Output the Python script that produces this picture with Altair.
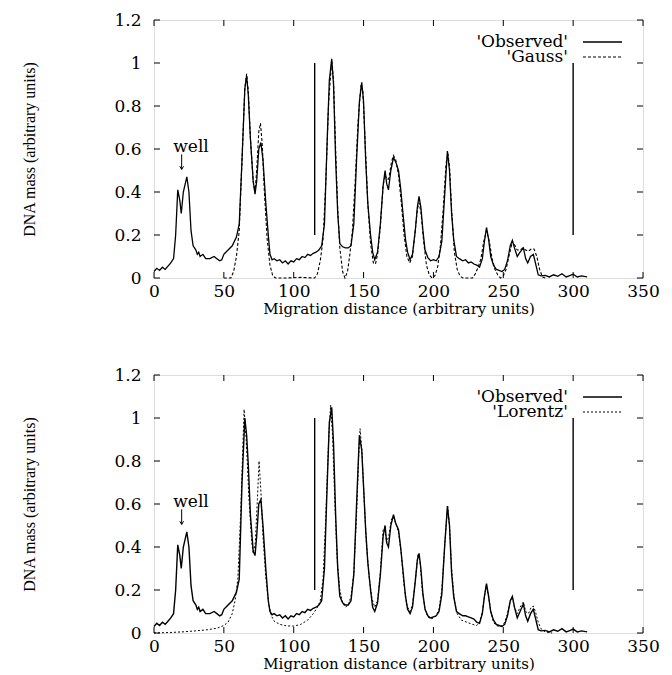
import altair as alt
import pandas as pd

# ---------------- data ----------------
obs_x = [0, 2, 4, 6, 8, 10, 12, 14, 15.5, 17,
         18.5, 19.5, 21, 23.5, 25, 26.5, 28, 30, 31, 32,
         33, 35, 37, 40, 43, 45, 47, 48.5, 50, 53,
         56, 59, 61, 63, 65, 66.3, 67.5, 69, 71, 72.3,
         73.5, 75, 76.5, 78, 80, 81.8, 83, 84.5, 86, 88,
         90, 92, 94, 96, 98, 100, 102, 104, 106, 108,
         110, 112, 114, 116, 118, 120, 122, 124, 125.5, 127.2,
         128.5, 130, 131.5, 133, 135, 137, 139, 141, 143, 145,
         147, 148.7, 150, 151.5, 153, 155, 156.5, 158, 160, 162,
         164, 165.4, 166.5, 167.8, 169.5, 171.4, 173, 175, 176.5, 178.5,
         180, 181.5, 183.3, 185, 187, 188.5, 189.7, 191, 192.5, 194,
         196, 198, 200, 202, 204, 206, 208, 210, 211.5, 213,
         214.5, 216.5, 218.5, 221, 223, 225, 227, 229, 231, 233,
         235, 236.5, 238, 239.5, 241, 243, 245, 247, 249, 251,
         253, 255, 256.5, 258, 260, 262, 264.4, 266, 267.5, 269.5,
         271.5, 273, 275, 277, 280, 283, 286, 289, 292, 295,
         298, 300, 303, 306, 310]

obs_top = [0.03, 0.045, 0.035, 0.05, 0.04, 0.055, 0.07, 0.09, 0.2, 0.41,
           0.36, 0.30, 0.40, 0.47, 0.40, 0.22, 0.15, 0.13, 0.11, 0.12,
           0.10, 0.11, 0.09, 0.09, 0.10, 0.09, 0.08, 0.085, 0.11, 0.13,
           0.15, 0.19, 0.25, 0.55, 0.88, 0.94, 0.85, 0.65, 0.45, 0.39,
           0.45, 0.60, 0.63, 0.55, 0.35, 0.20, 0.11, 0.085, 0.09, 0.08,
           0.085, 0.07, 0.08, 0.065, 0.08, 0.075, 0.09, 0.085, 0.10, 0.095,
           0.11, 0.105, 0.115, 0.12, 0.13, 0.15, 0.25, 0.65, 0.92, 1.02,
           0.90, 0.55, 0.30, 0.16, 0.145, 0.14, 0.14, 0.15, 0.25, 0.55,
           0.82, 0.91, 0.82, 0.55, 0.35, 0.20, 0.12, 0.085, 0.12, 0.25,
           0.43, 0.50, 0.44, 0.41, 0.50, 0.56, 0.54, 0.50, 0.42, 0.28,
           0.18, 0.12, 0.085, 0.11, 0.22, 0.33, 0.38, 0.33, 0.22, 0.13,
           0.095, 0.08, 0.085, 0.08, 0.10, 0.17, 0.38, 0.59, 0.50, 0.30,
           0.18, 0.10, 0.09, 0.08, 0.085, 0.07, 0.075, 0.065, 0.06, 0.05,
           0.09, 0.17, 0.235, 0.18, 0.10, 0.06, 0.04, 0.035, 0.03, 0.04,
           0.08, 0.15, 0.175, 0.14, 0.10, 0.12, 0.14, 0.09, 0.07, 0.10,
           0.11, 0.07, 0.015, 0.01, 0.012, 0.005, 0.015, 0.008, 0.02, 0.005,
           0.012, 0.018, 0.005, 0.01, 0.005]

obs_bot = [0.03, 0.045, 0.035, 0.05, 0.04, 0.055, 0.07, 0.09, 0.2, 0.41,
           0.36, 0.30, 0.40, 0.47, 0.40, 0.22, 0.15, 0.13, 0.11, 0.12,
           0.10, 0.11, 0.09, 0.09, 0.10, 0.09, 0.08, 0.085, 0.11, 0.13,
           0.15, 0.19, 0.25, 0.70, 1.00, 0.92, 0.78, 0.55, 0.38, 0.36,
           0.45, 0.60, 0.62, 0.50, 0.30, 0.15, 0.10, 0.085, 0.09, 0.08,
           0.085, 0.07, 0.08, 0.065, 0.08, 0.075, 0.09, 0.085, 0.10, 0.095,
           0.11, 0.105, 0.115, 0.12, 0.13, 0.15, 0.30, 0.70, 0.98, 1.05,
           0.88, 0.55, 0.30, 0.17, 0.14, 0.13, 0.13, 0.15, 0.27, 0.60,
           0.92, 0.85, 0.68, 0.48, 0.33, 0.20, 0.12, 0.10, 0.14, 0.27,
           0.45, 0.50, 0.42, 0.40, 0.50, 0.55, 0.51, 0.48, 0.40, 0.27,
           0.17, 0.11, 0.09, 0.12, 0.24, 0.34, 0.37, 0.30, 0.18, 0.11,
           0.08, 0.07, 0.075, 0.08, 0.10, 0.18, 0.40, 0.59, 0.50, 0.28,
           0.17, 0.10, 0.09, 0.08, 0.08, 0.075, 0.07, 0.065, 0.05, 0.045,
           0.09, 0.17, 0.23, 0.17, 0.10, 0.06, 0.04, 0.035, 0.03, 0.04,
           0.08, 0.15, 0.17, 0.12, 0.07, 0.10, 0.135, 0.08, 0.055, 0.09,
           0.11, 0.07, 0.015, 0.01, 0.012, 0.005, 0.015, 0.008, 0.02, 0.005,
           0.012, 0.018, 0.005, 0.01, 0.005]

gauss_x = [50, 55, 57, 59, 61, 63, 65, 66.3, 67.5, 69,
           71, 72.3, 73.5, 75, 76.2, 77.5, 79, 81, 83, 85,
           87, 95, 105, 115, 117, 119, 121, 123, 125, 127.2,
           128.5, 130, 131.5, 133, 135, 136.7, 138.5, 140, 142, 144,
           146, 148, 149.5, 151, 153, 155, 157, 158.5, 160, 162,
           164, 165.4, 166.5, 168, 170, 171.4, 173, 175, 177, 179,
           181, 183, 185, 187, 188.5, 189.7, 191, 193, 195, 197,
           199, 201, 203, 205, 207, 209, 210.3, 211.5, 213, 215,
           217, 219, 221, 228, 230, 232, 234, 236, 238, 240,
           242, 244, 246, 248, 250, 252, 254, 256, 258, 260,
           262, 264, 266, 268, 270, 272, 274, 276, 278, 280]
gauss_y = [0, 0, 0.03, 0.10, 0.22, 0.55, 0.88, 0.95, 0.87, 0.65,
           0.45, 0.40, 0.50, 0.68, 0.72, 0.62, 0.40, 0.18, 0.06, 0.01,
           0, 0, 0.003, 0, 0.02, 0.08, 0.18, 0.45, 0.82, 1.01,
           0.92, 0.60, 0.32, 0.14, 0.03, 0, 0.03, 0.10, 0.22, 0.45,
           0.72, 0.89, 0.87, 0.65, 0.35, 0.16, 0.07, 0.065, 0.11, 0.24,
           0.43, 0.48, 0.46, 0.46, 0.54, 0.57, 0.55, 0.48, 0.35, 0.20,
           0.10, 0.07, 0.10, 0.22, 0.32, 0.35, 0.31, 0.17, 0.06, 0.015,
           0, 0.01, 0.05, 0.15, 0.32, 0.53, 0.58, 0.52, 0.32, 0.12,
           0.04, 0.01, 0, 0, 0.02, 0.05, 0.09, 0.17, 0.22, 0.17,
           0.09, 0.04, 0.015, 0, 0.01, 0.04, 0.10, 0.155, 0.155, 0.13,
           0.13, 0.14, 0.13, 0.125, 0.135, 0.135, 0.10, 0.04, 0.005, 0]

lorentz_x = [0, 10, 20, 30, 38, 45, 50, 53, 56, 58,
             60, 62, 63.5, 64.5, 66, 68, 70, 71, 72.5, 74,
             75.2, 76.5, 78, 80, 82, 84, 86, 90, 95, 100,
             105, 110, 114, 117, 119, 121, 123, 125, 126.4, 127.8,
             129.5, 131, 133, 135, 137, 139, 141, 143, 145, 146.5,
             147.5, 148.8, 150, 152, 154, 156, 158, 160, 162, 164,
             165.4, 166.5, 168, 170, 171.4, 173, 175, 177, 179, 181,
             183, 185, 187, 189, 190.5, 192, 194, 196, 198, 200,
             202, 204, 206, 208, 210.2, 211.5, 213, 215, 217, 220,
             224, 228, 231, 233, 235, 236.5, 237.8, 239.5, 241, 243,
             245, 247, 249, 251, 253, 255, 256.5, 258, 260, 262,
             264.4, 266, 268, 270, 271.5, 273, 275, 277, 280, 285]
lorentz_y = [0.0, 0.002, 0.005, 0.01, 0.015, 0.022, 0.035, 0.05, 0.09, 0.15,
             0.25, 0.55, 0.85, 1.04, 0.90, 0.62, 0.42, 0.37, 0.42, 0.62,
             0.80, 0.66, 0.45, 0.26, 0.14, 0.08, 0.055, 0.04, 0.033, 0.032,
             0.04, 0.06, 0.09, 0.12, 0.15, 0.25, 0.55, 0.90, 1.06, 0.92,
             0.60, 0.35, 0.20, 0.14, 0.12, 0.13, 0.17, 0.28, 0.55, 0.82,
             0.95, 0.85, 0.68, 0.42, 0.26, 0.16, 0.12, 0.15, 0.28, 0.48,
             0.48, 0.42, 0.45, 0.53, 0.54, 0.51, 0.47, 0.37, 0.22, 0.13,
             0.10, 0.13, 0.24, 0.37, 0.33, 0.20, 0.11, 0.075, 0.065, 0.07,
             0.08, 0.11, 0.20, 0.40, 0.59, 0.50, 0.30, 0.15, 0.09, 0.06,
             0.05, 0.04, 0.035, 0.05, 0.10, 0.17, 0.22, 0.17, 0.10, 0.05,
             0.035, 0.03, 0.035, 0.05, 0.09, 0.15, 0.165, 0.12, 0.09, 0.12,
             0.145, 0.10, 0.09, 0.12, 0.125, 0.10, 0.05, 0.02, 0.005, 0.0]

lane_x = [115, 300]
lane_lo = [0.2, 0.2]
lane_hi = [1.0, 1.0]

well_label = ["well"]
well_label_x = [26.5]
well_label_y = [0.61]
well_arrow_x = [19.8]
well_arrow_top = [0.575]
well_arrow_tip = [0.505]

x_ticks = [0, 50, 100, 150, 200, 250, 300, 350]
y_ticks = [0, 0.2, 0.4, 0.6, 0.8, 1.0, 1.2]

# ---------------- chart ----------------
W, H = 489, 258
SERIF = "DejaVu Serif"
TIMES = "Liberation Serif"

xs = alt.Scale(domain=[0, 350], nice=False, zero=False)
ys = alt.Scale(domain=[0, 1.2], nice=False, zero=False)
xaxis = alt.Axis(values=x_ticks, title="Migration distance (arbitrary units)",
                 labelFont=SERIF, labelFontSize=17, labelColor="black",
                 labelPadding=5, titleFont=SERIF, titleFontSize=15,
                 titleFontWeight="normal", titleColor="black", titlePadding=2,
                 ticks=False, domain=False, grid=False, labelFlush=False)
yaxis = alt.Axis(values=y_ticks, format="~g", title="DNA mass (arbitrary units)",
                 labelFont=SERIF, labelFontSize=17, labelColor="black",
                 labelPadding=13, titleFont=TIMES, titleFontSize=16,
                 titleFontWeight="normal", titleColor="black", titlePadding=76,
                 ticks=False, domain=False, grid=False, labelFlush=False)


def X(field):
    return alt.X(field, type="quantitative", scale=xs, axis=xaxis)


def Y(field):
    return alt.Y(field, type="quantitative", scale=ys, axis=yaxis)


def panel(obs_y, mx, my, model_label, dash, obs_width, model_width):
    obs_df = pd.DataFrame({"x": obs_x, "y": obs_y})
    mod_df = pd.DataFrame({"x": mx, "y": my})
    lanes_df = pd.DataFrame({"x": lane_x, "y": lane_lo, "y2": lane_hi})
    well_df = pd.DataFrame({"x": well_label_x, "y": well_label_y, "t": well_label})
    arrow_df = pd.DataFrame({"x": well_arrow_x, "y": well_arrow_top, "y2": well_arrow_tip})
    xt = pd.DataFrame({"x": x_ticks})
    yt = pd.DataFrame({"y": y_ticks})

    obs = alt.Chart(obs_df).mark_line(color="black", strokeWidth=obs_width).encode(
        x=X("x"), y=Y("y"))
    mod = alt.Chart(mod_df).mark_line(color="black", strokeWidth=model_width,
                                      strokeDash=dash).encode(x=X("x"), y=Y("y"))
    lanes = alt.Chart(lanes_df).mark_rule(color="black", strokeWidth=1.4).encode(
        x=X("x"), y=Y("y"), y2="y2")
    well = alt.Chart(well_df).mark_text(font=SERIF, fontSize=17, color="black",
                                        baseline="middle").encode(
        x=X("x"), y=Y("y"), text="t")
    arrow_shaft = alt.Chart(arrow_df).mark_rule(color="black", strokeWidth=1).encode(
        x=X("x"), y=Y("y"), y2="y2")
    arrow_head = alt.Chart(arrow_df).mark_point(
        shape="M-0.6,-1L0,0L0.6,-1", filled=False, color="black", size=40,
        strokeWidth=1, opacity=1).encode(x=X("x"), y=Y("y2"))
    xt_bot = alt.Chart(xt).mark_rule(color="black").encode(
        x=X("x"), y=alt.value(H), y2=alt.value(H - 6))
    xt_top = alt.Chart(xt).mark_rule(color="black").encode(
        x=X("x"), y=alt.value(0), y2=alt.value(6))
    yt_left = alt.Chart(yt).mark_rule(color="black").encode(
        y=Y("y"), x=alt.value(0), x2=alt.value(6))
    yt_right = alt.Chart(yt).mark_rule(color="black").encode(
        y=Y("y"), x=alt.value(W), x2=alt.value(W - 6))

    leg_text = alt.Chart(pd.DataFrame({"t": ["'Observed'", model_label],
                                       "py": [22, 37]})).mark_text(
        font=SERIF, fontSize=17, color="black", align="right", baseline="middle"
    ).encode(x=alt.value(414), y=alt.Y("py:Q", scale=None), text="t")
    leg_obs = alt.Chart(pd.DataFrame({"k": [0]})).mark_rule(
        color="black", strokeWidth=obs_width).encode(
        x=alt.value(429), x2=alt.value(468), y=alt.value(22))
    leg_mod = alt.Chart(pd.DataFrame({"k": [0]})).mark_rule(
        color="black", strokeWidth=model_width, strokeDash=dash).encode(
        x=alt.value(429), x2=alt.value(468), y=alt.value(37))

    return alt.layer(obs, mod, lanes, well, arrow_shaft, arrow_head, xt_bot, xt_top,
                     yt_left, yt_right, leg_text, leg_obs, leg_mod
                     ).properties(width=W, height=H)


top = panel(obs_top, gauss_x, gauss_y, "'Gauss'", [3, 2], 1.3, 1.1)
bottom = panel(obs_bot, lorentz_x, lorentz_y, "'Lorentz'", [2, 2], 1.4, 1.0)

chart = alt.vconcat(top, bottom, spacing=48).configure_view(
    stroke="black", strokeWidth=1.2
).configure(
    padding={"left": 21, "top": 10, "right": 5, "bottom": 2},
    background="white"
)

chart.save("out.html", embed_options={"renderer": "svg", "actions": False})
